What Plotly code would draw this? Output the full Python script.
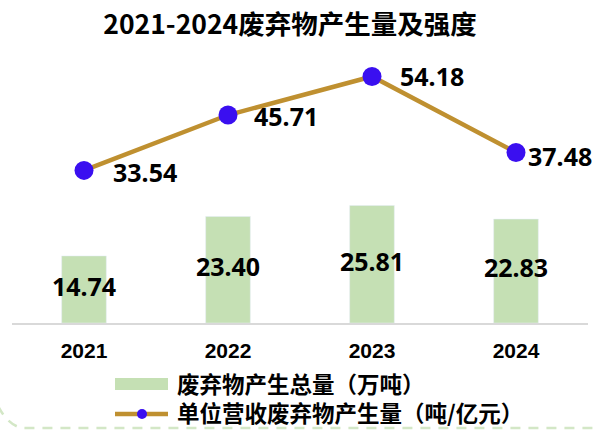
import plotly.graph_objects as go

years = ["2021", "2022", "2023", "2024"]
total_waste = [14.74, 23.40, 25.81, 22.83]        # 万吨
intensity = [33.54, 45.71, 54.18, 37.48]          # 吨/亿元
legend_names = ["废弃物产生总量（万吨）", "单位营收废弃物产生量（吨/亿元）"]
label_xshift = [27, 24, 26, 10]
label_yshift = [-2, -1, 0, -4]

W, H = 599, 433
ML, MR, MT, MB = 12, 11, 60, 110
PW, PH = W - ML - MR, H - MT - MB

BAR_C = "#c5e0b4"
LINE_C = "#bf9030"
MARK_C = "#3a0ff0"
DASH_C = "#d3e7c6"
NUM_FONT = "Noto Sans"
CJK_FONT = "Noto Sans CJK SC"

def px2paper_x(px):
    return (px - ML) / PW

def px2paper_y(py):
    return (H - MB - py) / PH

fig = go.Figure()

fig.add_trace(go.Bar(
    x=years, y=total_waste, marker_color=BAR_C, width=0.31,
    name=legend_names[0], showlegend=False, hoverinfo="skip",
))
fig.add_trace(go.Scatter(
    x=years, y=[v / 2 for v in total_waste], mode="text",
    text=[f"{v:.2f}" for v in total_waste],
    textfont=dict(family=NUM_FONT, size=25, color="#000000", weight="bold"),
    showlegend=False, hoverinfo="skip",
))
fig.add_trace(go.Scatter(
    x=years, y=intensity, mode="lines+markers",
    line=dict(color=LINE_C, width=4.5),
    marker=dict(color=MARK_C, size=19),
    name=legend_names[1], showlegend=False,
))

for i, (v, xs, ys) in enumerate(zip(intensity, label_xshift, label_yshift)):
    fig.add_annotation(
        x=i, y=v, xref="x", yref="y", text=f"<b>{v:.2f}</b>", showarrow=False,
        xanchor="left", yanchor="middle", xshift=xs, yshift=ys,
        font=dict(family=NUM_FONT, size=25, color="#000000"),
    )

# manual legend (below the plot)
lx0, lx1 = px2paper_x(115), px2paper_x(168)
fig.add_shape(type="rect", xref="paper", yref="paper",
              x0=lx0, x1=lx1, y0=px2paper_y(390), y1=px2paper_y(378),
              fillcolor=BAR_C, line_width=0)
fig.add_shape(type="line", xref="paper", yref="paper",
              x0=lx0, x1=lx1, y0=px2paper_y(414), y1=px2paper_y(414),
              line=dict(color=LINE_C, width=4.5))
fig.add_shape(type="circle", xref="paper", yref="paper",
              x0=px2paper_x(137), x1=px2paper_x(147),
              y0=px2paper_y(419), y1=px2paper_y(409),
              fillcolor=MARK_C, line_width=0)
for name, yc in zip(legend_names, [383, 412]):
    fig.add_annotation(
        xref="paper", yref="paper", x=px2paper_x(175), y=px2paper_y(yc),
        text=f"<b>{name}</b>", showarrow=False, xanchor="left", yanchor="middle",
        font=dict(family=CJK_FONT, size=22.5, color="#000000"),
    )

# decorative dashed curve at bottom-left
fig.add_shape(
    type="path", xref="paper", yref="paper",
    path=(f"M {px2paper_x(-2)},{px2paper_y(406)} "
          f"Q {px2paper_x(8)},{px2paper_y(425)} {px2paper_x(22)},{px2paper_y(428)} "
          f"L {px2paper_x(605)},{px2paper_y(428)}"),
    line=dict(color=DASH_C, width=2.5, dash="10px,8px"),
)

fig.update_layout(
    width=W, height=H,
    margin=dict(l=ML, r=MR, t=MT, b=MB),
    paper_bgcolor="white", plot_bgcolor="white",
    title=dict(
        text="<b>2021-2024废弃物产生量及强度</b>",
        x=290 / W, xanchor="center", y=1 - 25 / H, yanchor="middle",
        font=dict(family=CJK_FONT, size=26.5, color="#000000"),
    ),
    xaxis=dict(
        type="category", range=[-0.5, 3.5], showgrid=False,
        showline=True, linecolor="#d9d9d9", linewidth=2,
        ticks="", ticklabelstandoff=8,
        tickfont=dict(family="Liberation Sans", size=21, color="#000000", weight="bold"),
    ),
    yaxis=dict(range=[0, PH / 4.55], visible=False, showgrid=False),
    showlegend=False,
)

fig.write_html("out.html")
